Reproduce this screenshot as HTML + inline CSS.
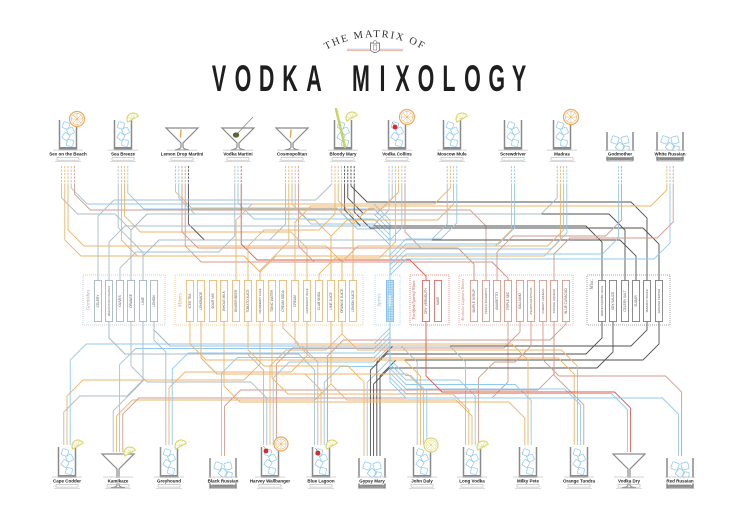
<!DOCTYPE html>
<html><head><meta charset="utf-8"><title>The Matrix of Vodka Mixology</title>
<style>
html,body{margin:0;padding:0;background:#fff;width:750px;height:516px;overflow:hidden}
svg{display:block}
.lb{font-family:"Liberation Sans",sans-serif;font-weight:bold;font-size:4.5px;fill:#222;text-anchor:middle}
.ig{font-family:"Liberation Sans",sans-serif;font-size:3.2px;fill:#555;text-anchor:middle}
.gl{font-family:"Liberation Serif",serif;font-style:italic;font-size:5px;text-anchor:middle}
</style></head><body>
<svg id="s" width="750" height="516" viewBox="0 0 750 516" xmlns="http://www.w3.org/2000/svg">
<defs>
<pattern id="chk" width="2.4" height="2.4" patternUnits="userSpaceOnUse" patternTransform="rotate(45)">
<rect width="2.4" height="2.4" fill="#d9edfb"/><rect width="1.2" height="1.2" fill="#7fbde8"/><rect x="1.2" y="1.2" width="1.2" height="1.2" fill="#7fbde8"/>
</pattern>
<path id="arc" d="M 312,60 A 98,98 0 0 1 438,60" fill="none"/>
</defs>
<rect width="750" height="516" fill="#fff"/>

<!-- Title -->
<text font-family="'Liberation Serif',serif" font-size="10.5" letter-spacing="1.7" fill="#333"><textPath href="#arc" startOffset="50%" text-anchor="middle">THE MATRIX OF</textPath></text>
<line x1="347" y1="49.3" x2="403" y2="49.3" stroke="#a9cde6" stroke-width="1"/>
<line x1="347" y1="50.6" x2="403" y2="50.6" stroke="#ebb3a4" stroke-width="1"/>
<path d="M370.5,43 H379.5 V50 Q375,55 370.5,50 Z" fill="#fff" stroke="#777" stroke-width="0.9"/>
<rect x="373.3" y="45" width="3.4" height="5" fill="none" stroke="#888" stroke-width="0.6"/>
<circle cx="375" cy="42.3" r="1.6" fill="#fff" stroke="#777" stroke-width="0.6"/>
<text transform="scale(0.58,1)" y="91" font-family="'Liberation Sans',sans-serif" font-weight="bold" font-size="37" fill="#1e1e1e" text-anchor="middle" x="377.6 419.0 459.8 500.0 541.4 581.0 622.4 659.5 694.0 734.5 774.1 814.7 856.4 894.8">VODKA MIXOLOGY</text>

<g id="lines" fill="none"></g>

<!-- ingredient groups -->
<g fill="none" stroke-width="0.8" stroke-dasharray="1 1">
<rect x="83" y="275" width="82" height="50" stroke="#b9c4c9"/>
<rect x="175" y="275" width="188" height="50" stroke="#ecc189"/>
<rect x="375" y="275" width="25" height="50" stroke="#a7d2ef"/>
<rect x="410" y="275" width="39" height="50" stroke="#e07a6f"/>
<rect x="459" y="275" width="114" height="50" stroke="#dfa99c"/>
<rect x="587" y="275" width="83" height="50" stroke="#8c8c8c"/>
</g>
<g id="boxes"></g>

<g class="gl">
<text transform="translate(89.5,300) rotate(-90)" fill="#9fb0b8">Garnishes</text>
<text transform="translate(181.5,300) rotate(-90)" fill="#e3a55a">Mixers</text>
<text transform="translate(380.5,300) rotate(-90)" fill="#8cc3e8">Spirits</text>
<text transform="translate(415,300) rotate(-90)" fill="#d9544a" font-size="4.1">Fortified/Aperitif Wines</text>
<text transform="translate(464,300) rotate(-90)" fill="#cf8a7a" font-size="4">Alcoholic Liqueurs/Bitters</text>
<text transform="translate(593,284) rotate(-90)" fill="#777">Misc.</text>
</g>

<g class="ig">
<text transform="translate(99.1,301) rotate(-90)">CELERY</text>
<text transform="translate(110.1,301) rotate(-90)" font-size="2.5">MARASCHINO CHERRIES</text>
<text transform="translate(121.1,301) rotate(-90)">OLIVES</text>
<text transform="translate(132.1,301) rotate(-90)">ORANGE</text>
<text transform="translate(144.1,301) rotate(-90)">LIME</text>
<text transform="translate(155.1,301) rotate(-90)">LEMON</text>
<text transform="translate(191.1,301) rotate(-90)">ICED TEA</text>
<text transform="translate(202.1,301) rotate(-90)">LEMONADE</text>
<text transform="translate(214.1,301) rotate(-90)">SOUR MIX</text>
<text transform="translate(225.1,301) rotate(-90)">WHOLE MILK</text>
<text transform="translate(237.1,301) rotate(-90)">GINGER BEER</text>
<text transform="translate(249.1,301) rotate(-90)">TOMATO JUICE</text>
<text transform="translate(261.1,301) rotate(-90)" font-size="2.7">CRANBERRY JUICE</text>
<text transform="translate(273.1,301) rotate(-90)">TONIC WATER</text>
<text transform="translate(284.1,301) rotate(-90)">CREAM SODA</text>
<text transform="translate(296.1,301) rotate(-90)">CREAM</text>
<text transform="translate(308.1,301) rotate(-90)" font-size="2.6">GRAPEFRUIT JUICE</text>
<text transform="translate(320.1,301) rotate(-90)">CLUB SODA</text>
<text transform="translate(332.1,301) rotate(-90)">LIME JUICE</text>
<text transform="translate(343.1,301) rotate(-90)">ORANGE JUICE</text>
<text transform="translate(354.1,301) rotate(-90)">LEMON JUICE</text>
<text transform="translate(391.1,301) rotate(-90)" fill="#fff" font-weight="bold">VODKA</text>
<text transform="translate(427.1,301) rotate(-90)">DRY VERMOUTH</text>
<text transform="translate(439.1,301) rotate(-90)">SAKE</text>
<text transform="translate(475.1,301) rotate(-90)">SIMPLE SYRUP</text>
<text transform="translate(487.1,301) rotate(-90)" font-size="2.8">PEACH SCHNAPPS</text>
<text transform="translate(498.1,301) rotate(-90)">AMARETTO</text>
<text transform="translate(509.1,301) rotate(-90)">TRIPLE SEC</text>
<text transform="translate(521.1,301) rotate(-90)">GALLIANO</text>
<text transform="translate(532.1,301) rotate(-90)" font-size="2.5">ANGOSTURA BITTERS</text>
<text transform="translate(544.1,301) rotate(-90)" font-size="2.8">CHERRY LIQUEUR</text>
<text transform="translate(555.1,301) rotate(-90)" font-size="2.8">COFFEE LIQUEUR</text>
<text transform="translate(567.1,301) rotate(-90)">BLUE CURACAO</text>
<text transform="translate(603.1,301) rotate(-90)" font-size="2.3">WORCESTERSHIRE SAUCE</text>
<text transform="translate(614.1,301) rotate(-90)">SOY SAUCE</text>
<text transform="translate(626.1,301) rotate(-90)">CELERY SALT</text>
<text transform="translate(637.1,301) rotate(-90)">SUGAR</text>
<text transform="translate(648.1,301) rotate(-90)" font-size="2.8">TABASCO SAUCE</text>
<text transform="translate(660.1,301) rotate(-90)" font-size="2.8">GROUND PEPPER</text>
</g>

<g id="glasses"></g>

<g class="lb">
<text x="68" y="155.6">Sex on the Beach</text>
<text x="123" y="155.6">Sea Breeze</text>
<text x="182" y="155.6">Lemon Drop Martini</text>
<text x="238" y="155.6">Vodka Martini</text>
<text x="292" y="155.6">Cosmopolitan</text>
<text x="343" y="155.6">Bloody Mary</text>
<text x="397" y="155.6">Vodka Collins</text>
<text x="452" y="155.6">Moscow Mule</text>
<text x="513" y="155.6">Screwdriver</text>
<text x="562" y="155.6">Madras</text>
<text x="620" y="155.6">Godmother</text>
<text x="670" y="155.6">White Russian</text>

<text x="67" y="482.5">Cape Codder</text>
<text x="118" y="482.5">Kamikaze</text>
<text x="169" y="482.5">Greyhound</text>
<text x="223" y="482.5">Black Russian</text>
<text x="270" y="482.5">Harvey Wallbanger</text>
<text x="321" y="482.5">Blue Lagoon</text>
<text x="372" y="482.5">Gypsy Mary</text>
<text x="422" y="482.5">John Daly</text>
<text x="472" y="482.5">Long Vodka</text>
<text x="528" y="482.5">Milky Pete</text>
<text x="579" y="482.5">Orange Tundra</text>
<text x="629" y="482.5">Vodka Dry</text>
<text x="680" y="482.5">Red Russian</text>
</g>
</svg>
<script>
(function(){
var NS='http://www.w3.org/2000/svg';
function el(p,t,a){var e=document.createElementNS(NS,t);for(var k in a)e.setAttribute(k,a[k]);p.appendChild(e);return e;}
var C={g:'#a9bec9',m:'#ebb56b',v:'#92c9ee',f:'#dc5a4b',l:'#d39a8c',x:'#4f4f4f'};
var BC={g:'#9aaab2',m:'#e6ae62',v:'#7fbde8',f:'#d9544a',l:'#cf8a7a',x:'#6a6a6a'};
var ING={celery:[98,'g'],cherry:[109,'g'],olive:[120,'g'],orange:[131,'g'],lime:[143,'g'],lemon:[154,'g'],
tea:[190,'m'],lemonade:[201,'m'],sour:[213,'m'],milk:[224,'m'],ginger:[236,'m'],tomato:[248,'m'],cran:[260,'m'],tonic:[272,'m'],csoda:[283,'m'],cream:[295,'m'],grape:[307,'m'],club:[319,'m'],limej:[331,'m'],oj:[342,'m'],lemonj:[353,'m'],
vodka:[390,'v'],verm:[426,'f'],sake:[438,'f'],
syrup:[474,'l'],peach:[486,'l'],amaretto:[497,'l'],triple:[508,'l'],galliano:[520,'l'],bitters:[531,'l'],cherryl:[543,'l'],coffee:[554,'l'],curacao:[566,'l'],
worc:[602,'x'],soy:[613,'x'],csalt:[625,'x'],sugar:[636,'x'],tabasco:[647,'x'],pepper:[659,'x']};
var keys=Object.keys(ING);
var TOP=[
[68,'hb',['orange','vodka','peach','cran','oj']],
[123,'hb',['lime','vodka','cran','grape']],
[182,'mt',['sugar','vodka','triple','lemonj','syrup']],
[238,'mt',['olive','vodka','verm']],
[292,'mt',['lime','vodka','triple','cran','limej']],
[343,'hb',['celery','worc','tabasco','pepper','csalt','vodka','tomato','lemonj']],
[397,'hb',['cherry','orange','vodka','lemonj','syrup','club']],
[452,'hb',['lime','vodka','ginger','limej']],
[513,'hb',['vodka','oj']],
[562,'hb',['orange','vodka','cran','oj']],
[620,'rk',['vodka','amaretto']],
[670,'rk',['vodka','coffee','cream']]];
var BOT=[
[67,'hb',['lime','vodka','cran']],
[118,'mt',['lime','vodka','triple','limej']],
[169,'hb',['lemon','vodka','grape']],
[223,'rk',['vodka','coffee']],
[270,'hb',['cherry','orange','vodka','galliano','oj']],
[321,'hb',['cherry','lemon','vodka','curacao','lemonade']],
[372,'rk',['vodka','worc','soy','tabasco','pepper','tomato']],
[422,'hb',['lemon','vodka','tea','lemonade']],
[472,'hb',['lemon','vodka','bitters','limej','tonic']],
[528,'hb',['vodka','milk','csoda']],
[579,'hb',['vodka','coffee','cream','oj']],
[629,'mt',['vodka','verm']],
[680,'rk',['vodka','cherryl']]];
var LG=document.getElementById('lines');
function path(d,col,extra){var a={d:d,stroke:col,'stroke-width':0.9,fill:'none'};if(extra)for(var k in extra)a[k]=extra[k];return el(LG,'path',a);}
function r1(v){return Math.round(v*10)/10;}
TOP.forEach(function(c,ci){
  var cx=c[0],arr=c[2].slice().sort(function(a,b){return ING[a][0]-ING[b][0];}),n=arr.length;
  arr.forEach(function(k,i){
    var sx=r1(cx-(n-1)*1.6+i*3.2),tx=ING[k][0],col=C[ING[k][1]];
    var yh=k==='vodka'?204+ci*5:200+((keys.indexOf(k)*13)%32)*2;
    var dir=Math.sign(tx-sx),d=r1(Math.min(16,Math.abs(tx-sx)/2));
    path('M'+sx+',184 V'+(yh-d)+' L'+r1(sx+dir*d)+','+yh+' H'+r1(tx-dir*d)+' L'+tx+','+r1(yh+d)+' V281',col);
    path('M'+sx+',166 V184',col,{'stroke-dasharray':'2.2 1.3'});
  });
});
BOT.forEach(function(c,ci){
  var cx=c[0],type=c[1],ey=type==='hb'?445:(type==='mt'?452:456);
  var arr=c[2].slice().sort(function(a,b){return ING[a][0]-ING[b][0];}),n=arr.length;
  arr.forEach(function(k,i){
    var sx=r1(cx-(n-1)*1.6+i*3.2),tx=ING[k][0],col=C[ING[k][1]];
    var yh=k==='vodka'?r1(344+ci*4.5):340+((keys.indexOf(k)*7)%32)*2;
    var dir=Math.sign(sx-tx),d=r1(Math.min(16,Math.abs(tx-sx)/2));
    path('M'+tx+',321 V'+r1(yh-d)+' L'+r1(tx+dir*d)+','+yh+' H'+r1(sx-dir*d)+' L'+sx+','+r1(yh+d)+' V'+ey,col);
  });
});
var BX=document.getElementById('boxes');
keys.forEach(function(k){
  var x=ING[k][0],t=ING[k][1];
  el(BX,'rect',{x:x-3.6,y:280.5,width:7.2,height:41,fill:k==='vodka'?'url(#chk)':'#fff',stroke:BC[t],'stroke-width':0.75});
});
var G=document.getElementById('glasses');
var GR='#8a8a8a';
function P(d,st,w,f){return el(G,'path',{d:d,stroke:st,'stroke-width':w,fill:f||'none'});}
function ice(x,y,s,a){el(G,'rect',{x:x-s/2,y:y-s/2,width:s,height:s,rx:1.2,fill:'none',stroke:'#8cc8ee','stroke-width':0.75,transform:'rotate('+a+' '+x+' '+y+')'});}
function highball(cx,t,b){
  el(G,'rect',{x:cx-8.5,y:t,width:17,height:b-t,fill:'#fff'});
  var h=b-t;
  ice(cx-2,t+5.5,6.3,20);ice(cx+2.5,t+11,6.3,-25);ice(cx-2,t+16.5,6.3,35);ice(cx+2,t+h-6,6.3,10);
  P('M'+(cx-8.5)+','+t+' V'+b+' H'+(cx+8.5)+' V'+t,GR,1.5);
  el(G,'rect',{x:cx-8.5,y:b-2,width:17,height:2,fill:GR});
}
function rocks(cx,t,b){
  el(G,'rect',{x:cx-13,y:t,width:26,height:b-t,fill:'#fff'});
  ice(cx-5,t+8,7,20);ice(cx+5,t+8,7,-15);ice(cx,t+15,7,40);ice(cx+6,t+17,6,10);
  P('M'+(cx-13)+','+t+' V'+b+' H'+(cx+13)+' V'+t,GR,1.5);
  el(G,'rect',{x:cx-13,y:b-3,width:26,height:3,fill:GR});
}
function martini(cx,r,f){
  P('M'+(cx-16)+','+r+' H'+(cx+16)+' L'+(cx+1)+','+(r+15)+' V'+(f-3)+' Q'+(cx+1)+','+(f-1)+' '+(cx+7)+','+f+' H'+(cx-7)+' Q'+(cx-1)+','+(f-1)+' '+(cx-1)+','+(f-3)+' V'+(r+15)+' Z',GR,1.2,'#fff');
}
function plaque(cx,ly){
  el(G,'line',{x1:cx-15,y1:ly-5.5,x2:cx+15,y2:ly-5.5,stroke:'#c4c4c4','stroke-width':0.7});
  el(G,'rect',{x:cx-15,y:ly-4.7,width:30,height:5.6,fill:'#fff'});
  el(G,'rect',{x:cx-11,y:ly+2,width:22,height:2.6,fill:'none',stroke:'#b5b5b5','stroke-width':0.6});
  el(G,'line',{x1:cx-13,y1:ly+5.8,x2:cx+13,y2:ly+5.8,stroke:'#c4c4c4','stroke-width':0.6});
}
function orange(x,y,r,col){
  el(G,'circle',{cx:x,cy:y,r:r,fill:'#fff',stroke:col,'stroke-width':1.2});
  el(G,'circle',{cx:x,cy:y,r:r-1.8,fill:'none',stroke:col,'stroke-width':0.5});
  for(var i=0;i<4;i++){var a=i*Math.PI/4;el(G,'line',{x1:r1(x-Math.cos(a)*(r-1.8)),y1:r1(y-Math.sin(a)*(r-1.8)),x2:r1(x+Math.cos(a)*(r-1.8)),y2:r1(y+Math.sin(a)*(r-1.8)),stroke:col,'stroke-width':0.5});}
}
function half(x,y,r,col,rot){
  var g=el(G,'g',{transform:'translate('+x+','+y+') rotate('+rot+')'});
  el(g,'path',{d:'M'+(-r)+',0 A'+r+','+r+' 0 0 1 '+r+',0 Z',fill:'#fff',stroke:col,'stroke-width':1.2});
  el(g,'path',{d:'M0,0 L'+r1(-r*0.7)+','+r1(-r*0.7)+' M0,0 V'+(-r+1.5)+' M0,0 L'+r1(r*0.7)+','+r1(-r*0.7),stroke:col,'stroke-width':0.5,fill:'none'});
}
function cherry(x,y){
  el(G,'path',{d:'M'+x+','+y+' q-1,-4 -3,-5',stroke:'#c33','stroke-width':0.5,fill:'none'});
  el(G,'circle',{cx:x,cy:y,r:2.4,fill:'#d42a2a'});
}
function twist(cx,r){el(G,'line',{x1:cx-1,y1:r+2,x2:cx-1.5,y2:r+9,stroke:'#e8a555','stroke-width':1.4,'stroke-linecap':'round'});}
var OR='#e8aa5e',LM='#dcd86e';
TOP.forEach(function(c){
  var cx=c[0],t=c[1];
  if(t==='hb')highball(cx,120,149);else if(t==='mt')martini(cx,128,150);else rocks(cx,132,160);
  plaque(cx,155.6);
});
orange(77,119,7.5,OR);
half(133,119,6,LM,-30);
twist(182,128);twist(292,128);
el(G,'line',{x1:236,y1:135,x2:253,y2:117,stroke:'#777','stroke-width':0.6});
el(G,'ellipse',{cx:236,cy:135,rx:3.2,ry:2.6,fill:'#45702a'});
el(G,'circle',{cx:236,cy:135,r:1,fill:'#d33'});
half(352,118,6,LM,-30);
el(G,'line',{x1:336,y1:109,x2:345,y2:147,stroke:'#c8d35a','stroke-width':2.4,'stroke-linecap':'round'});
orange(407,117,7.5,OR);cherry(395,127);
half(462,119,6,LM,-30);
orange(571,117,7.5,OR);
BOT.forEach(function(c){
  var cx=c[0],t=c[1];
  if(t==='hb')highball(cx,447,477);else if(t==='mt')martini(cx,454,488);else rocks(cx,458,488);
  plaque(cx,482.5);
});
half(78,446,6,LM,-30);
half(130,453,6,LM,-30);
half(181,446,6,LM,-30);
orange(281,444,7,OR);cherry(266,451);
half(332,446,6,LM,-30);cherry(318,453);
orange(431,445,7,LM);
half(483,447,6,LM,-30);
})();
</script>
</body></html>
